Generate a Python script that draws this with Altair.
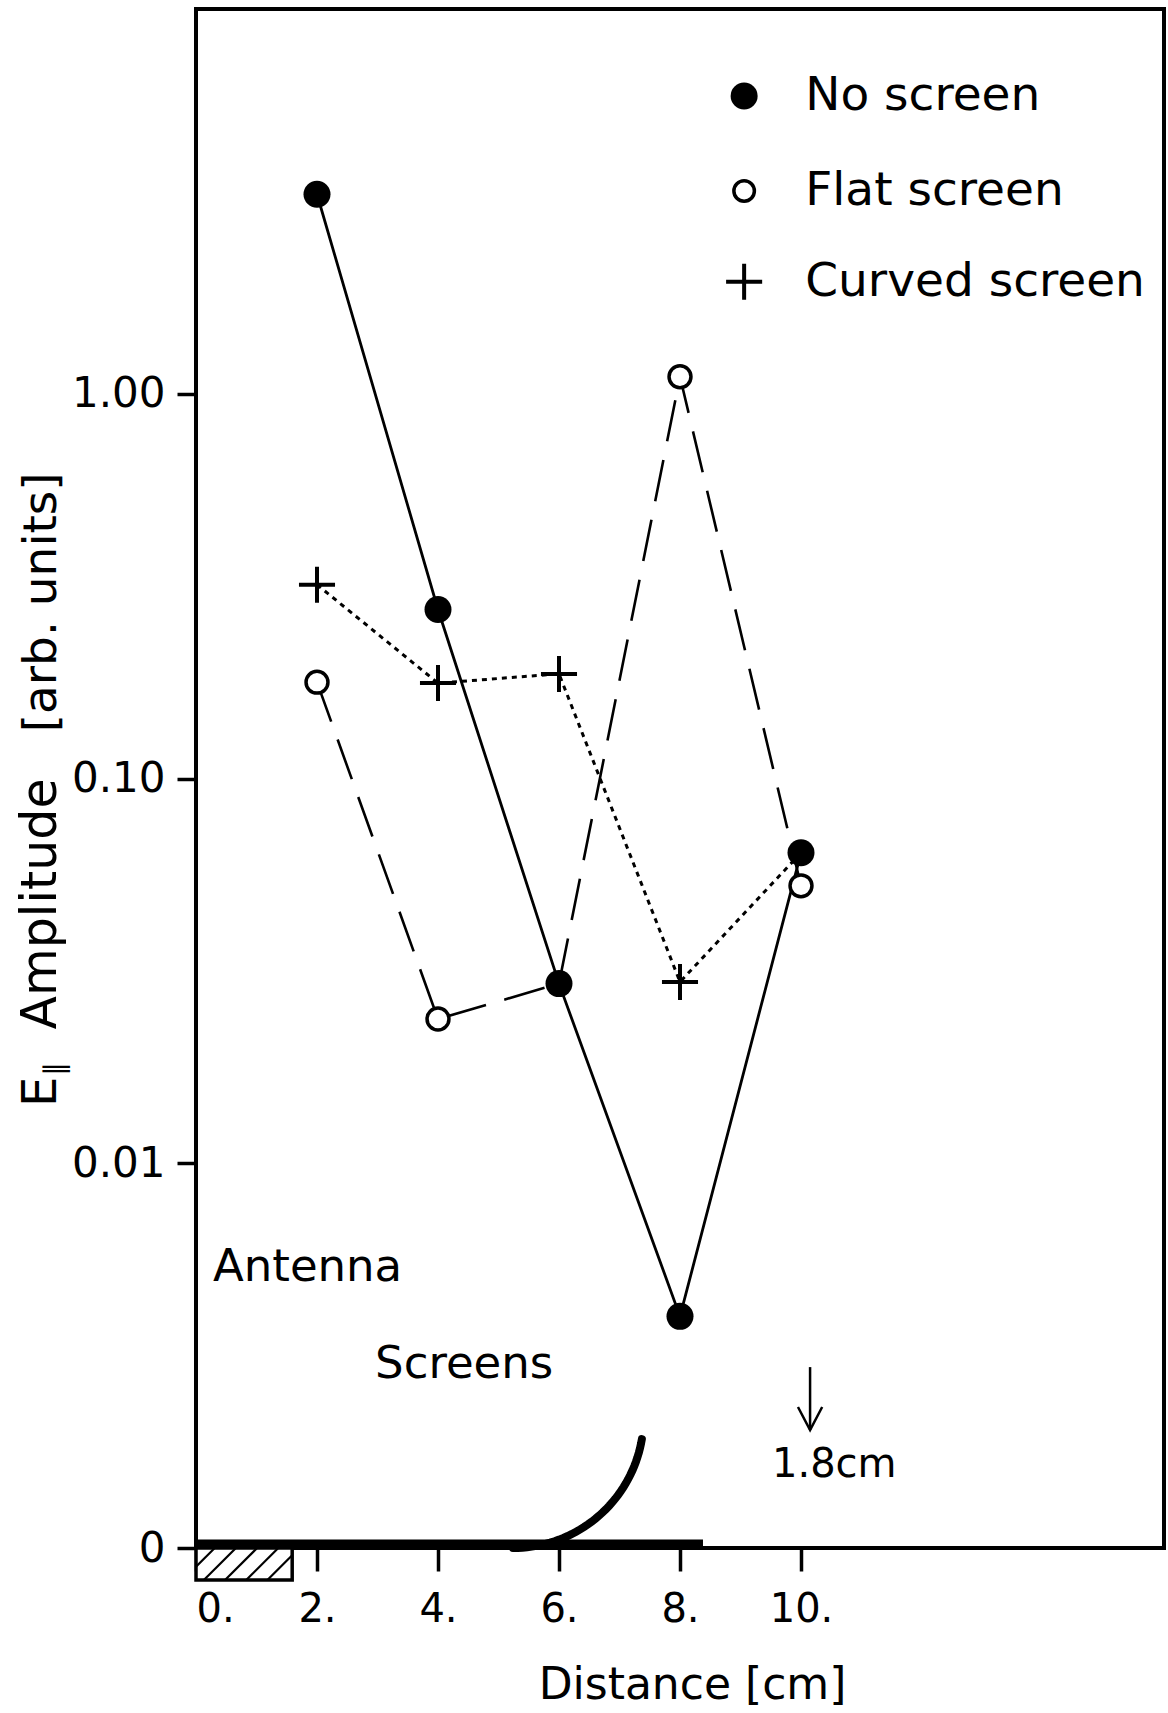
import altair as alt
import numpy as np
import pandas as pd

# ---- measured amplitudes (arb. units) versus distance (cm) ----
distance = [2, 4, 6, 8, 10]
no_screen = [3.30, 0.275, 0.0293, 0.0040, 0.0641]
flat_screen = [0.178, 0.0237, 0.0293, 1.107, 0.0526]
curved_screen = [0.319, 0.177, 0.187, 0.0296, 0.0641]
series_names = ["No screen", "Flat screen", "Curved screen"]
# distances where the curved-screen marker sits under the no-screen dot
curved_hidden_at = [10]

# ---- axes ----
x_tick_values = [0, 2, 4, 6, 8, 10]
x_tick_labels = ["0.", "2.", "4.", "6.", "8.", "10."]
y_tick_values = [0.001, 0.01, 0.1, 1.0]
y_tick_labels = ["0", "0.01", "0.10", "1.00"]
x_domain = [0, 16]
y_domain = [0.001, 10]

# ---- sketch of the set-up (cm, floor at 0) ----
antenna_x = [0.0, 1.59]
antenna_depth = 0.53
hatch_starts = [-0.22, 0.13, 0.48, 0.83, 1.18]
flat_screen_x = [0.0, 8.38]
curve_center = [5.24, 2.16]
curve_radius = 2.16
curve_angles = [-90, -9.6]
arrow_x = 10.15
arrow_y = [2.99, 1.95]

annotations = ["Antenna", "Screens", "1.8cm"]
annotation_x = [0.28, 2.96, 10.55]
annotation_y = [4.64, 3.04, 1.37]

legend_x = [9.06, 10.07]
legend_y = [24.0, 22.43, 20.93]

W, H = 968, 1539
Y_CM_MAX = (x_domain[1] - x_domain[0]) * H / W
FONT = "DejaVu Sans"

# ---------------- data tables ----------------
rows = []
for name, vals in zip(series_names, [no_screen, flat_screen, curved_screen]):
    for d, v in zip(distance, vals):
        rows.append({"distance": d, "amp": v, "series": name})
df = pd.DataFrame(rows)

x_scale = alt.Scale(domain=x_domain, nice=False, zero=False)
y_scale = alt.Scale(type="log", domain=y_domain, nice=False)
cm_scale = alt.Scale(domain=[0, Y_CM_MAX], nice=False, zero=False)

x_label_expr = "{}[indexof({}, datum.value)]".format(x_tick_labels, x_tick_values)
y_label_expr = "{}[indexof({}, datum.value)]".format(y_tick_labels, y_tick_values)

x_axis = alt.Axis(
    values=x_tick_values, labelExpr=x_label_expr, grid=False, domain=False,
    ticks=True, tickSize=23, tickWidth=3.5, tickColor="black",
    tickOpacity=1, labelFontSize=40,
    labelFont=FONT, labelColor="black", labelPadding=18,
    title="Distance [cm]", titleFont=FONT, titleFontSize=44,
    titleFontWeight="normal", titleColor="black", titleX=496, titleY=150,
    titleBaseline="alphabetic",
)
y_axis = alt.Axis(
    values=y_tick_values, labelExpr=y_label_expr, grid=False, domain=False,
    ticks=True, tickSize=19, tickWidth=3.5, tickColor="black",
    tickOpacity=1, labelFontSize=42,
    labelFont=FONT, labelColor="black", labelPadding=12, title=None,
)

base = alt.Chart(df)


def enc_main(chart):
    return chart.encode(
        x=alt.X("distance:Q", scale=x_scale, axis=x_axis),
        y=alt.Y("amp:Q", scale=y_scale, axis=y_axis),
    )


def only(name):
    return alt.datum.series == name


line_solid = enc_main(base.transform_filter(only("No screen"))
                      .mark_line(color="black", strokeWidth=2.8))
line_dash = enc_main(base.transform_filter(only("Flat screen"))
                     .mark_line(color="black", strokeWidth=2.6,
                                strokeDash=[42, 19]))
line_dot = enc_main(base.transform_filter(only("Curved screen"))
                    .mark_line(color="black", strokeWidth=3,
                               strokeDash=[5, 5]))

pts_flat = enc_main(
    base.transform_filter(only("Flat screen"))
    .mark_point(shape="circle", size=480, filled=True, fill="white",
                stroke="black", strokeWidth=3.5, opacity=1))
pts_curved = enc_main(
    base.transform_filter(only("Curved screen"))
    .transform_filter(~alt.FieldOneOfPredicate(field="distance",
                                               oneOf=curved_hidden_at))
    .mark_point(shape="M-1,0L1,0M0,-1L0,1", size=1300, filled=False,
                stroke="black", strokeWidth=4, opacity=1))
pts_none = enc_main(
    base.transform_filter(only("No screen"))
    .mark_point(shape="circle", size=729, filled=True, color="black",
                opacity=1))

main = alt.layer(line_solid, line_dash, line_dot, pts_flat, pts_curved, pts_none)

# ---------------- sketch layer (cm units, equal aspect) ----------------


def enc_cm(chart, xf="x", yf="y", extra=None):
    kw = dict(
        x=alt.X(f"{xf}:Q", scale=x_scale, axis=x_axis),
        y=alt.Y(f"{yf}:Q", scale=cm_scale, axis=None),
    )
    if extra:
        kw.update(extra)
    return chart.encode(**kw)


antenna_df = pd.DataFrame([{"x": antenna_x[0], "x2": antenna_x[1],
                            "y": -antenna_depth, "y2": 0.0}])
antenna = enc_cm(alt.Chart(antenna_df).mark_rect(
    fill="white", stroke="black", strokeWidth=3.5),
    extra={"x2": "x2:Q", "y2": "y2:Q"})

hatch_rows = []
w = antenna_x[1] - antenna_x[0]
h = antenna_depth
for b in hatch_starts:
    xa, ya = b, -h
    xb, yb = b + h, 0.0
    if xa < 0:
        ya += -xa
        xa = 0.0
    if xb > w:
        yb -= xb - w
        xb = w
    hatch_rows.append({"x": xa, "x2": xb, "y": ya, "y2": yb})
hatch = enc_cm(alt.Chart(pd.DataFrame(hatch_rows)).mark_rule(
    color="black", strokeWidth=2.2), extra={"x2": "x2:Q", "y2": "y2:Q"})

flat_df = pd.DataFrame([{"x": flat_screen_x[0], "x2": flat_screen_x[1], "y": 0.0}])
flat = enc_cm(alt.Chart(flat_df).mark_rule(
    color="black", strokeWidth=9, yOffset=-4), extra={"x2": "x2:Q"})

theta = np.radians(np.linspace(curve_angles[0], curve_angles[1], 40))
curve_df = pd.DataFrame({
    "x": curve_center[0] + curve_radius * np.cos(theta),
    "y": curve_center[1] + curve_radius * np.sin(theta),
    "i": np.arange(len(theta)),
})
curve = enc_cm(alt.Chart(curve_df).mark_line(
    color="black", strokeWidth=8, strokeCap="round"),
    extra={"order": "i:Q"})

arrow_df = pd.DataFrame([{"x": arrow_x, "y": arrow_y[0], "y2": arrow_y[1]}])
arrow = enc_cm(alt.Chart(arrow_df).mark_rule(color="black", strokeWidth=2.5),
               extra={"y2": "y2:Q"})
head_df = pd.DataFrame({
    "x": [arrow_x - 0.2, arrow_x, arrow_x + 0.2],
    "y": [arrow_y[1] + 0.38, arrow_y[1], arrow_y[1] + 0.38],
    "i": [0, 1, 2],
})
head = enc_cm(alt.Chart(head_df).mark_line(color="black", strokeWidth=2.5),
              extra={"order": "i:Q"})

ann_df = pd.DataFrame({"x": annotation_x, "y": annotation_y, "t": annotations})
ann_left = enc_cm(
    alt.Chart(ann_df).transform_filter(alt.datum.t != "1.8cm")
    .mark_text(align="left", baseline="middle", font=FONT, fontSize=45,
               color="black"),
    extra={"text": "t:N"})
ann_center = enc_cm(
    alt.Chart(ann_df).transform_filter(alt.datum.t == "1.8cm")
    .mark_text(align="center", baseline="middle", font=FONT, fontSize=40,
               color="black"),
    extra={"text": "t:N"})

# legend drawn inside the frame
leg_df = pd.DataFrame({"x": [legend_x[0]] * 3, "tx": [legend_x[1]] * 3,
                       "y": legend_y, "t": series_names})
leg_none = enc_cm(alt.Chart(leg_df).transform_filter(alt.datum.t == "No screen")
                  .mark_point(shape="circle", size=729, filled=True,
                              color="black", opacity=1))
leg_flat = enc_cm(alt.Chart(leg_df).transform_filter(alt.datum.t == "Flat screen")
                  .mark_point(shape="circle", size=420, filled=True, fill="white",
                              stroke="black", strokeWidth=3.5, opacity=1))
leg_curved = enc_cm(alt.Chart(leg_df).transform_filter(alt.datum.t == "Curved screen")
                    .mark_point(shape="M-1,0L1,0M0,-1L0,1", size=1300,
                                filled=False, stroke="black", strokeWidth=4,
                                opacity=1))
leg_text = enc_cm(alt.Chart(leg_df).mark_text(
    align="left", baseline="middle", font=FONT, fontSize=47, color="black"),
    xf="tx", extra={"text": "t:N"})

# vertical axis title with a subscript on E
ytitle_df = pd.DataFrame({
    "x": [-2.31, -2.19, -2.31, -2.31],
    "y": [7.29, 7.80, 8.57, 17.78],
    "t": ["E", "\u2225", "Amplitude", "[arb. units]"],
    "k": ["E", "sub", "a", "b"],
})


def ytitle_part(key, size, align):
    return enc_cm(
        alt.Chart(ytitle_df).transform_filter(alt.datum.k == key)
        .mark_text(angle=270, align=align, baseline="alphabetic", font=FONT,
                   fontSize=size, color="black"),
        extra={"text": "t:N"})


ytitle = alt.layer(
    ytitle_part("E", 48, "left"),
    ytitle_part("sub", 28, "left"),
    ytitle_part("a", 49, "left"),
    ytitle_part("b", 47, "right"),
)

sketch = alt.layer(antenna, hatch, flat, curve, arrow, head, ann_left,
                   ann_center, leg_none, leg_flat, leg_curved, leg_text, ytitle)

chart = (
    alt.layer(main, sketch)
    .resolve_scale(y="independent")
    .properties(
        width=W, height=H,
        autosize=alt.AutoSizeParams(type="none"),
        padding={"left": 196, "top": 9, "right": 4, "bottom": 165},
        background="white",
    )
    .configure_view(stroke="black", strokeWidth=4)
)

chart.save("out.html", embed_options={"renderer": "svg", "actions": False})
